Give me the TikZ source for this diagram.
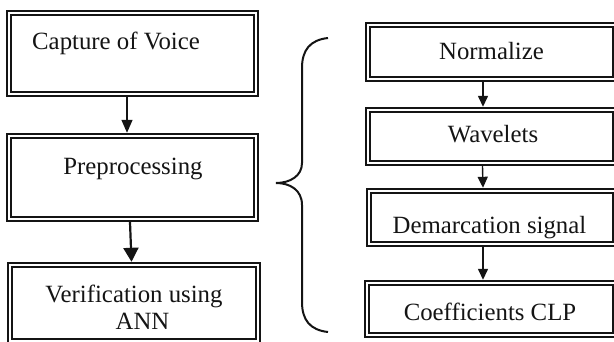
\documentclass[tikz,border=0pt]{standalone}
\usepackage{fontspec}
\setmainfont{Liberation Serif}
\usetikzlibrary{arrows.meta}
\definecolor{ink}{HTML}{141414}
\begin{document}
\begin{tikzpicture}[x=1pt,y=-1pt,
  box/.style={draw=ink,double=white,line width=2.3pt,double distance=1.8pt,
    rectangle,inner sep=0pt,outer sep=3.2pt},
  txt/.style={inner sep=0pt,text=ink,font=\fontsize{24.8}{29}\selectfont},
  arrA/.style={draw=ink,line width=1.4pt,-{Triangle[width=11pt,length=13pt]}},
  arrB/.style={draw=ink,line width=2.2pt,-{Triangle[width=15pt,length=14pt]}},
  arrC/.style={draw=ink,line width=1.4pt,-{Triangle[width=10pt,length=11pt]}}]
\useasboundingbox (0,0) rectangle (614,342);
% left column
\node[box,minimum width=247pt,minimum height=81pt] (b1) at (132.5,53.5) {};
\node[box,minimum width=247pt,minimum height=83pt] (b2) at (132.5,177.5) {};
\node[box,minimum width=248pt,minimum height=76pt] (b3) at (134,303) {};
\node[txt,anchor=base west] (t1) at (32,50) {Capture of Voice};
\node[txt,anchor=base] (t2) at (133,175) {Preprocessing};
\node[txt,anchor=base] (t3) at (134,302) {Verification using};
\node[txt,anchor=base] (t4) at (142.5,330) {ANN};
% right column
\node[box,minimum width=247pt,minimum height=54pt] (r1) at (491.5,52) {};
\node[box,minimum width=247pt,minimum height=53pt] (r2) at (491.5,136.5) {};
\node[box,minimum width=246pt,minimum height=53pt] (r3) at (492,217.5) {};
\node[box,minimum width=248pt,minimum height=52pt] (r4) at (491,309) {};
\node[txt,anchor=base] (s1) at (491.5,60) {Normalize};
\node[txt,anchor=base] (s2) at (493,143) {Wavelets};
\node[txt,anchor=base] (s3) at (489.5,234) {Demarcation signal};
\node[txt,anchor=base] (s4) at (490,320) {Coefficients CLP};
% arrows
\draw[arrA] ([xshift=-5.5pt]b1.south) -- ([xshift=-5.5pt]b2.north);
\draw[arrB] ([xshift=-2.5pt]b2.south) -- ([xshift=-2.5pt]b3.north);
\draw[arrC] ([xshift=-8.5pt]r1.south) -- ([xshift=-8.5pt]r2.north);
\draw[arrC] ([xshift=-9pt]r2.south) -- ([xshift=-9pt]r3.north);
\draw[arrC] ([xshift=-9pt]r3.south) -- ([xshift=-8pt]r4.north);
% brace
\draw[ink,line width=2pt] (328,38) .. controls (310,40) and (302,50) .. (302,68)
  -- (302,163) .. controls (302,176) and (290,183) .. (276,183)
  .. controls (290,183) and (302,190) .. (302,205)
  -- (302,302) .. controls (302,320) and (310,330) .. (328,332);
\end{tikzpicture}
\end{document}
